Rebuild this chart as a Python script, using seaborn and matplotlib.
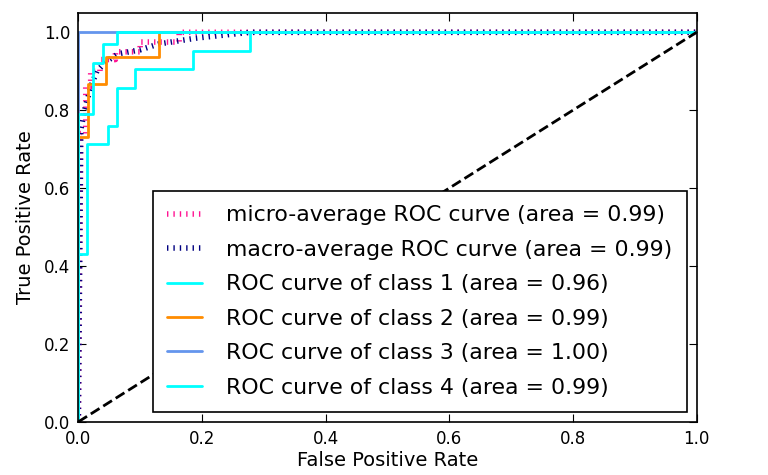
import pandas as pd
import matplotlib
matplotlib.use("Agg")
import matplotlib.pyplot as plt
import seaborn as sns

# === DATOS ===
micro_fpr = [0.0, 0.003, 0.012, 0.012, 0.02, 0.02, 0.035, 0.035, 0.06, 0.06, 0.1, 0.1, 0.163, 0.163, 1.0]
micro_tpr = [0.0, 0.74, 0.74, 0.86, 0.86, 0.9, 0.9, 0.93, 0.93, 0.95, 0.95, 0.975, 0.975, 1.0, 1.0]

macro_fpr = [0.0, 0.004, 0.01, 0.02, 0.03, 0.045, 0.065, 0.1, 0.13, 0.19, 0.278, 1.0]
macro_tpr = [0.0, 0.75, 0.8, 0.86, 0.9, 0.925, 0.945, 0.955, 0.97, 0.985, 1.0, 1.0]

c1_fpr = [0.0, 0.0, 0.014, 0.014, 0.048, 0.048, 0.063, 0.063, 0.092, 0.092, 0.186, 0.186, 0.278, 0.278, 1.0]
c1_tpr = [0.0, 0.43, 0.43, 0.714, 0.714, 0.76, 0.76, 0.857, 0.857, 0.905, 0.905, 0.952, 0.952, 1.0, 1.0]

c2_fpr = [0.0, 0.0, 0.016, 0.016, 0.044, 0.044, 0.13, 0.13, 1.0]
c2_tpr = [0.0, 0.731, 0.731, 0.867, 0.867, 0.936, 0.936, 1.0, 1.0]

c3_fpr = [0.0, 0.0, 1.0]
c3_tpr = [0.0, 1.0, 1.0]

c4_fpr = [0.0, 0.0, 0.023, 0.023, 0.04, 0.04, 0.063, 0.063, 1.0]
c4_tpr = [0.0, 0.79, 0.79, 0.92, 0.92, 0.97, 0.97, 1.0, 1.0]

curvas = [
    ("micro-average ROC curve (area = 0.99)", micro_fpr, micro_tpr, "deeppink", 4, (0, (0.25, 0.9))),
    ("macro-average ROC curve (area = 0.99)", macro_fpr, macro_tpr, "navy", 4, (0, (0.25, 0.9))),
    ("ROC curve of class 1 (area = 0.96)", c1_fpr, c1_tpr, "aqua", 2, "-"),
    ("ROC curve of class 2 (area = 0.99)", c2_fpr, c2_tpr, "darkorange", 2, "-"),
    ("ROC curve of class 3 (area = 1.00)", c3_fpr, c3_tpr, "cornflowerblue", 2, "-"),
    ("ROC curve of class 4 (area = 0.99)", c4_fpr, c4_tpr, "aqua", 2, "-"),
]

# === ESTILO ===
sns.set_theme(style="white")
plt.rcParams.update({
    "font.family": ["DejaVu Sans"],
    "axes.edgecolor": "black",
    "axes.linewidth": 1.2,
    "xtick.direction": "in",
    "ytick.direction": "in",
    "xtick.top": True,
    "ytick.right": True,
    "xtick.bottom": True,
    "ytick.left": True,
    "xtick.major.size": 6,
    "ytick.major.size": 6,
    "xtick.major.width": 0.8,
    "ytick.major.width": 0.8,
    "xtick.color": "black",
    "ytick.color": "black",
    "xtick.labelsize": 12,
    "ytick.labelsize": 12,
    "axes.labelsize": 14,
    "axes.labelcolor": "black",
    "text.color": "black",
})

fig, ax = plt.subplots(figsize=(7.68, 4.75), dpi=100)
fig.subplots_adjust(left=0.102, right=0.907, top=0.973, bottom=0.112)

for nombre, fpr, tpr, color, lw, ls in curvas:
    df = pd.DataFrame({"fpr": fpr, "tpr": tpr})
    sns.lineplot(data=df, x="fpr", y="tpr", ax=ax, color=color, linewidth=lw,
                 linestyle=ls, label=nombre, estimator=None, sort=False,
                 dash_capstyle="butt")

diag = pd.DataFrame({"fpr": [0, 1], "tpr": [0, 1]})
sns.lineplot(data=diag, x="fpr", y="tpr", ax=ax, color="black", linewidth=2,
             linestyle="--", estimator=None, sort=False)

ax.set_xlim(0.0, 1.0)
ax.set_ylim(0.0, 1.05)
ax.set_xticks([0.0, 0.2, 0.4, 0.6, 0.8, 1.0])
ax.set_yticks([0.0, 0.2, 0.4, 0.6, 0.8, 1.0])
ax.set_xlabel("False Positive Rate", labelpad=2)
ax.set_ylabel("True Positive Rate", labelpad=6)
ax.tick_params(pad=6)

leg = ax.legend(loc="lower right", fontsize=15.8, fancybox=False, frameon=True,
                framealpha=1, edgecolor="black", borderaxespad=0.45,
                borderpad=0.65, labelspacing=0.66, handlelength=1.6,
                handletextpad=1.1)
leg.get_frame().set_linewidth(1.2)

plt.savefig("out.png", dpi=100)
